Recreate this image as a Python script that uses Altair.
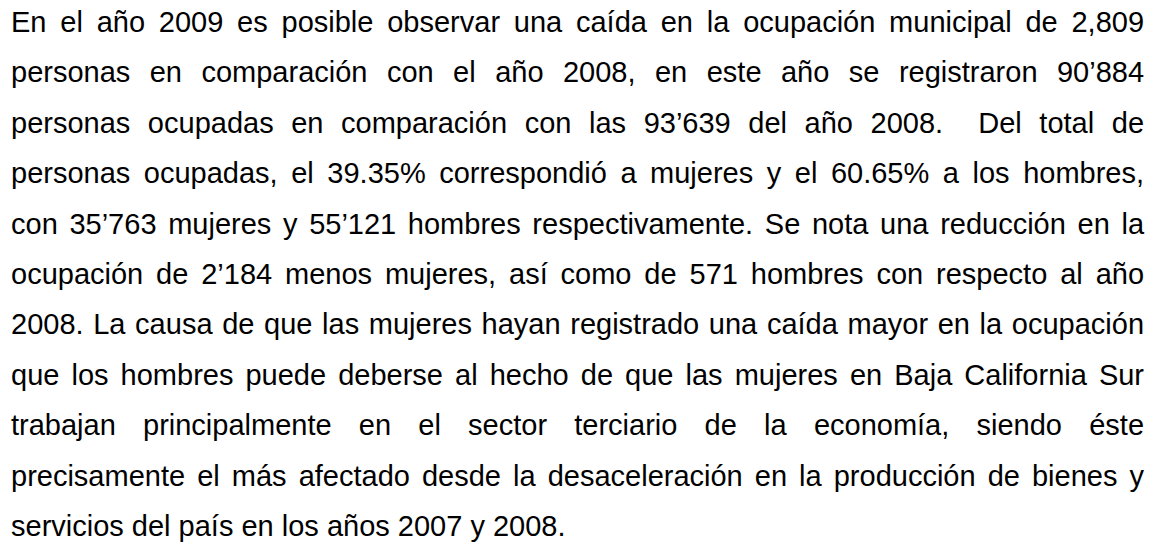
import re
import altair as alt
import pandas as pd

# Paragraph lines as they appear in the reference
lines = [
    "En el año 2009 es posible observar una caída en la ocupación municipal de 2,809",
    "personas en comparación con el año 2008, en este año se registraron 90’884",
    "personas ocupadas en comparación con las 93’639 del año 2008.  Del total de",
    "personas ocupadas, el 39.35% correspondió a mujeres y el 60.65% a los hombres,",
    "con 35’763 mujeres y 55’121 hombres respectivamente. Se nota una reducción en la",
    "ocupación de 2’184 menos mujeres, así como de 571 hombres con respecto al año",
    "2008. La causa de que las mujeres hayan registrado una caída mayor en la ocupación",
    "que los hombres puede deberse al hecho de que las mujeres en Baja California Sur",
    "trabajan principalmente en el sector terciario de la economía, siendo éste",
    "precisamente el más afectado desde la desaceleración en la producción de bienes y",
    "servicios del país en los años 2007 y 2008.",
]

# Arial / Liberation Sans advance widths (per 1000 em) used for justification
ADV = {
    "a": 556, "b": 556, "c": 500, "d": 556, "e": 556, "f": 278, "g": 556, "h": 556,
    "i": 222, "j": 222, "k": 500, "l": 222, "m": 833, "n": 556, "o": 556, "p": 556,
    "q": 556, "r": 333, "s": 500, "t": 278, "u": 556, "v": 500, "w": 722, "x": 500,
    "y": 500, "z": 500,
    "B": 667, "C": 722, "D": 722, "E": 667, "L": 556, "P": 667, "S": 667,
    "0": 556, "1": 556, "2": 556, "3": 556, "4": 556, "5": 556, "6": 556, "7": 556,
    "8": 556, "9": 556,
    ",": 278, ".": 278, "%": 889, "’": 222, " ": 278,
    "á": 556, "é": 556, "í": 278, "ó": 556, "ú": 556, "ñ": 556,
}

FONT = 29
W_CHART, H_CHART = 1140, 531
LEFT, RIGHT = 3, 1136
LINE_STEP = 50.4
FIRST_BASE = 24


def tw(s):
    return sum(ADV.get(ch, 556) for ch in s) * FONT / 1000.0


rows = []
for i, line in enumerate(lines):
    tokens = re.split(r"( +)", line)
    words = tokens[0::2]
    spaces = tokens[1::2]
    natural = sum(tw(t) for t in tokens)
    nsp = sum(len(s) for s in spaces)
    last = i == len(lines) - 1
    extra = 0.0 if (last or nsp == 0) else (RIGHT - LEFT - natural) / nsp
    x = LEFT
    for k, w in enumerate(words):
        rows.append({"line": i + 1, "word": w, "x": x})
        x += tw(w)
        if k < len(spaces):
            x += len(spaces[k]) * (tw(" ") + extra)

df = pd.DataFrame(rows)

y_lo = 1 - FIRST_BASE / LINE_STEP
y_hi = 1 + (H_CHART - FIRST_BASE) / LINE_STEP

chart = (
    alt.Chart(df)
    .mark_text(
        align="left",
        baseline="alphabetic",
        font="Liberation Sans, Arial, sans-serif",
        fontSize=FONT,
        color="#000000",
    )
    .encode(
        x=alt.X("x:Q", scale=alt.Scale(domain=[0, W_CHART], nice=False, zero=False), axis=None),
        y=alt.Y("line:Q", scale=alt.Scale(domain=[y_lo, y_hi], nice=False, zero=False, reverse=True), axis=None),
        text="word:N",
    )
    .properties(width=W_CHART, height=H_CHART, padding=0, background="white")
    .configure_view(stroke=None)
)

chart.save("out.html", embed_options={"renderer": "svg", "actions": False})
